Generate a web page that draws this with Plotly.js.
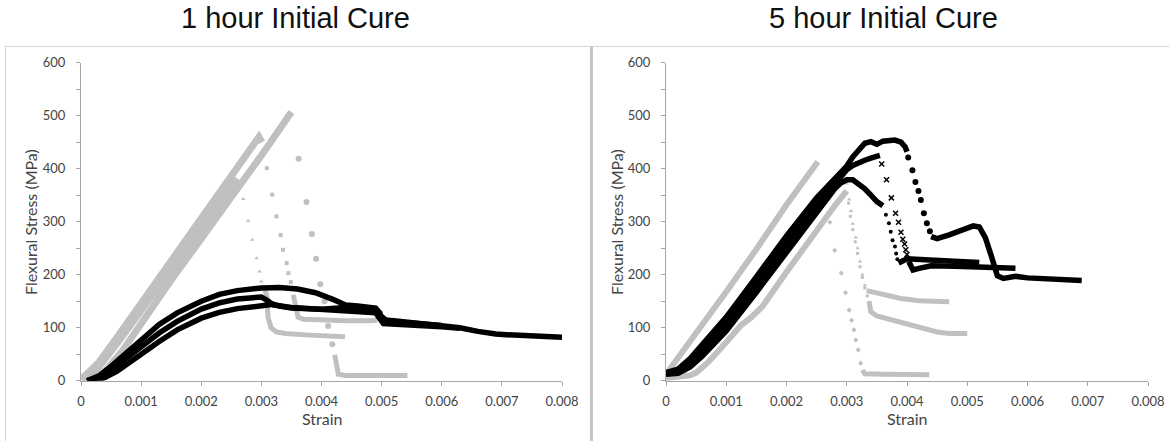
<!DOCTYPE html>
<html>
<head>
<meta charset="utf-8">
<script src="https://cdn.plot.ly/plotly-3.0.1.min.js"></script>
<style>
html,body{margin:0;padding:0;background:#fff;}
#chart{width:1169px;height:441px;}
</style>
</head>
<body>
<div id="chart"></div>
<script>
// ---------- Titles / labels ----------
var panelTitles = ["1 hour Initial Cure", "5 hour Initial Cure"];
var xTitle = "Strain";
var yTitle = "Flexural Stress (MPa)";

// ---------- LEFT PANEL (1 hour) ----------
// grey specimens: loading line, failure drop points, residual tail
var gA_rise_x = [0, 0.0003, 0.0006, 0.001, 0.0015, 0.002, 0.0024, 0.0026];
var gA_rise_y = [2, 28, 72, 134, 212, 290, 352, 382];
var gA_drop_x = [0.00270, 0.00278, 0.00285, 0.00292, 0.00297, 0.00300];
var gA_drop_y = [343, 302, 266, 231, 206, 187];
var gA_tail_x = [0.00305, 0.00309, 0.00311, 0.00316, 0.00325, 0.0034, 0.0038, 0.0042, 0.00439];
var gA_tail_y = [175, 160, 120, 100, 92, 89, 86, 84, 83];

var gB_rise_x = [0, 0.0003, 0.0006, 0.001, 0.0015, 0.002, 0.0025, 0.0028, 0.00296, 0.00301];
var gB_rise_y = [2, 35, 82, 146, 225, 304, 384, 436, 460, 450];
var gB_drop_x = [0.00309, 0.00318, 0.00325, 0.00332, 0.00336, 0.00342, 0.00345, 0.00349];
var gB_drop_y = [401, 351, 310, 275, 247, 222, 203, 186];
var gB_tail_x = [0.00353, 0.00357, 0.00361, 0.0037, 0.004, 0.0044, 0.0048, 0.00493];
var gB_tail_y = [162, 140, 120, 116, 114, 113, 113, 114];

var gC_rise_x = [0.0001, 0.0004, 0.0007, 0.001, 0.0015, 0.002, 0.0025, 0.003, 0.0035];
var gC_rise_y = [0, 18, 58, 108, 190, 268, 345, 425, 507];
var gC_drop_x = [0.00362, 0.00375, 0.00384, 0.00391, 0.00398, 0.00405, 0.00411, 0.00418];
var gC_drop_y = [419, 337, 277, 230, 182, 150, 103, 69];
var gC_tail_x = [0.00422, 0.00425, 0.00428, 0.0044, 0.0047, 0.0050, 0.0052, 0.00543];
var gC_tail_y = [49, 28, 12, 10, 10, 10, 10, 10];

// black specimens
var bL1_x = [0.0001, 0.0003, 0.0005, 0.0008, 0.001, 0.0013, 0.0016, 0.002, 0.0023, 0.0026, 0.003, 0.0033, 0.0036, 0.0039, 0.0042, 0.0044, 0.0046, 0.0048, 0.0049, 0.00497, 0.0050, 0.0052, 0.0055, 0.0058, 0.006, 0.0063, 0.0066, 0.0069, 0.0072, 0.0075, 0.0078, 0.008];
var bL1_y = [0, 9, 27, 56, 78, 106, 128, 150, 163, 170, 175, 176, 173, 166, 153, 143, 141, 139, 137, 128, 115, 113, 110, 107, 104, 100, 93, 88, 86, 84, 83, 82];
var bL2_x = [0.0001, 0.0003, 0.0005, 0.0008, 0.001, 0.0013, 0.0016, 0.002, 0.0023, 0.0026, 0.0029, 0.003, 0.0031, 0.0032, 0.0035, 0.004, 0.0045, 0.0049, 0.00503, 0.0055, 0.006, 0.0063];
var bL2_y = [0, 6, 20, 45, 64, 90, 112, 135, 147, 154, 158, 158, 151, 143, 138, 134, 131, 128, 108, 106, 102, 99];
var bL3_x = [0.0002, 0.0004, 0.0006, 0.0008, 0.001, 0.0013, 0.0016, 0.002, 0.0023, 0.0026, 0.003, 0.0032, 0.0033, 0.0035, 0.004, 0.0044, 0.0047, 0.0049, 0.0051, 0.0054, 0.0057, 0.006];
var bL3_y = [0, 6, 18, 33, 50, 74, 96, 118, 129, 136, 142, 144, 141, 137, 135, 138, 137, 130, 112, 110, 108, 104];

// ---------- RIGHT PANEL (5 hour) ----------
var gR1_rise_x = [0, 0.0005, 0.001, 0.0015, 0.002, 0.00252];
var gR1_rise_y = [12, 88, 168, 248, 332, 413];
var gR1_drop_x = [0.00272, 0.00280, 0.00291, 0.00298, 0.00304, 0.00308, 0.00312, 0.00315, 0.00319, 0.00323];
var gR1_drop_y = [299, 246, 203, 166, 133, 114, 96, 77, 58, 33];
var gR1_tail_x = [0.00326, 0.0033, 0.0036, 0.004, 0.00437];
var gR1_tail_y = [20, 13, 12, 11, 11];

var gR2_rise_x = [0.0001, 0.0003, 0.0005, 0.0008, 0.0012, 0.0016, 0.002, 0.0025, 0.00295];
var gR2_rise_y = [5, 20, 40, 78, 136, 196, 256, 330, 396];
var gR2_drop_x = [0.0030, 0.00304, 0.00307, 0.0031, 0.00315, 0.00318, 0.00322, 0.00326, 0.0033];
var gR2_drop_y = [372, 342, 320, 296, 270, 250, 225, 200, 180];
var gR2_tail_x = [0.00333, 0.0035, 0.0037, 0.0039, 0.0042, 0.0047];
var gR2_tail_y = [170, 166, 162, 155, 151, 149];

var gR3_rise_x = [0, 0.0002, 0.0004, 0.0005, 0.0007, 0.0009, 0.0011, 0.00125, 0.0014, 0.0016, 0.002, 0.0025, 0.0028, 0.003];
var gR3_rise_y = [5, 8, 10, 15, 35, 60, 85, 105, 118, 140, 205, 285, 330, 358];
var gR3_drop_x = [0.00303, 0.00306, 0.0031, 0.00314, 0.00318, 0.00322, 0.00326, 0.0033, 0.00334];
var gR3_drop_y = [335, 310, 285, 262, 240, 215, 195, 175, 160];
var gR3_tail_x = [0.00337, 0.0034, 0.0035, 0.0038, 0.0042, 0.0045, 0.0047, 0.005];
var gR3_tail_y = [150, 130, 122, 113, 102, 92, 89, 89];

var bR1_x = [0, 0.0002, 0.0004, 0.0006, 0.0008, 0.001, 0.0015, 0.002, 0.0025, 0.0028, 0.003, 0.0031, 0.0032, 0.0033, 0.0034, 0.0035, 0.0036, 0.0038, 0.0039, 0.00397, 0.004];
var bR1_y = [15, 22, 42, 68, 94, 120, 196, 273, 345, 382, 405, 422, 436, 448, 451, 446, 452, 454, 450, 441, 432];
var bR1_drop_x = [0.00402, 0.00409, 0.00414, 0.00419, 0.00423, 0.00428, 0.00433, 0.00438];
var bR1_drop_y = [421, 397, 375, 358, 341, 316, 297, 282];
var bR1_tail_x = [0.0044, 0.0045, 0.0047, 0.0049, 0.0051, 0.0052, 0.0053, 0.0054, 0.0055, 0.0056, 0.0058, 0.006, 0.0065, 0.0069];
var bR1_tail_y = [272, 268, 275, 283, 292, 290, 270, 235, 198, 193, 197, 194, 191, 189];

var bR2_x = [0, 0.0002, 0.0004, 0.0006, 0.0008, 0.001, 0.0015, 0.002, 0.0025, 0.0028, 0.003, 0.0031, 0.0032, 0.0033, 0.0034, 0.0035, 0.00355];
var bR2_y = [14, 17, 33, 57, 82, 106, 181, 258, 330, 370, 398, 406, 412, 416, 420, 424, 425];
var bR2_drop_x = [0.00358, 0.00366, 0.00374, 0.00381, 0.00386, 0.0039, 0.00393, 0.00396, 0.00398, 0.004];
var bR2_drop_y = [409, 379, 345, 316, 299, 280, 267, 258, 247, 238];
var bR2_tail_x = [0.00403, 0.0041, 0.0042, 0.0044, 0.0048, 0.0052, 0.0056, 0.0058];
var bR2_tail_y = [225, 209, 212, 217, 216, 214, 213, 212];

var bR3_x = [0, 0.0002, 0.0004, 0.0006, 0.0008, 0.001, 0.0015, 0.002, 0.0025, 0.0028, 0.0029, 0.003, 0.0031, 0.0032, 0.0033, 0.0034, 0.0035, 0.0036];
var bR3_y = [12, 14, 26, 46, 70, 94, 167, 243, 318, 362, 373, 379, 379, 372, 362, 350, 338, 330];
var bR3_drop_x = [0.00365, 0.0037, 0.00373, 0.00376, 0.0038, 0.00382, 0.00384];
var bR3_drop_y = [313, 297, 281, 265, 253, 240, 229];
var bR3_tail_x = [0.00386, 0.0039, 0.004, 0.0043, 0.0047, 0.005, 0.0052];
var bR3_tail_y = [222, 224, 230, 228, 226, 225, 223];

// ---------- build traces ----------
var GREY = "#c0c0c0", BLACK = "#000000";
function line(x, y, c, ax, w) {
  return {x: x, y: y, type: "scatter", mode: "lines", xaxis: ax[0], yaxis: ax[1],
    line: {color: c, width: w || 6}, hoverinfo: "skip", showlegend: false};
}
function dots(x, y, c, ax, sym, size) {
  var m = {color: c, size: size, symbol: sym};
  if (sym.indexOf("x") === 0) m.line = {color: c, width: 1.5};
  return {x: x, y: y, type: "scatter", mode: "markers", xaxis: ax[0], yaxis: ax[1],
    marker: m, hoverinfo: "skip", showlegend: false, cliponaxis: false};
}
var L = ["x", "y"], R = ["x2", "y2"];
var traces = [
  line(gA_rise_x, gA_rise_y, GREY, L, 8), dots(gA_drop_x, gA_drop_y, GREY, L, "triangle-up", 4), line(gA_tail_x, gA_tail_y, GREY, L, 5),
  line(gB_rise_x, gB_rise_y, GREY, L, 7), dots(gB_drop_x, gB_drop_y, GREY, L, "square", 4), line(gB_tail_x, gB_tail_y, GREY, L, 5),
  line(gC_rise_x, gC_rise_y, GREY, L, 7), dots(gC_drop_x, gC_drop_y, GREY, L, "circle", 6), line(gC_tail_x, gC_tail_y, GREY, L, 5),
  line(bL1_x, bL1_y, BLACK, L, 5.5), line(bL2_x, bL2_y, BLACK, L, 5.5), line(bL3_x, bL3_y, BLACK, L, 5.5),

  line(gR1_rise_x, gR1_rise_y, GREY, R), dots(gR1_drop_x, gR1_drop_y, GREY, R, "diamond", 4), line(gR1_tail_x, gR1_tail_y, GREY, R, 5),
  line(gR2_rise_x, gR2_rise_y, GREY, R), dots(gR2_drop_x, gR2_drop_y, GREY, R, "triangle-up", 4), line(gR2_tail_x, gR2_tail_y, GREY, R, 5),
  line(gR3_rise_x, gR3_rise_y, GREY, R), dots(gR3_drop_x, gR3_drop_y, GREY, R, "square", 3), line(gR3_tail_x, gR3_tail_y, GREY, R, 5),
  line(bR1_x, bR1_y, BLACK, R, 5.5), dots(bR1_drop_x, bR1_drop_y, BLACK, R, "circle", 6), line(bR1_tail_x, bR1_tail_y, BLACK, R, 5.5),
  line(bR2_x, bR2_y, BLACK, R, 5.5), dots(bR2_drop_x, bR2_drop_y, BLACK, R, "x-thin-open", 5), line(bR2_tail_x, bR2_tail_y, BLACK, R, 5.5),
  line(bR3_x, bR3_y, BLACK, R, 5.5), dots(bR3_drop_x, bR3_drop_y, BLACK, R, "circle", 4), line(bR3_tail_x, bR3_tail_y, BLACK, R, 5.5)
];

// ---------- layout ----------
var W = 1169, H = 441;
function px(v) { return v / W; }
function py(v) { return 1 - v / H; }
var tickFont = {family: "Lato, 'Open Sans', sans-serif", size: 13, color: "#444"};
var AXC = "#a6a6a6";
function xax(dom) {
  return {domain: dom, range: [0, 0.008], dtick: 0.001, tick0: 0, showgrid: false, zeroline: false,
    showline: true, linecolor: AXC, linewidth: 1, ticks: "outside", ticklen: 4, tickcolor: AXC,
    tickfont: tickFont, ticklabelstandoff: 5, fixedrange: true};
}
function yax(anchor) {
  return {domain: [py(380.7), py(62.7)], anchor: anchor, range: [0, 600], dtick: 100, tick0: 0,
    showgrid: false, zeroline: false, showline: true, linecolor: AXC, linewidth: 1,
    ticks: "outside", ticklen: 4, tickcolor: AXC, tickfont: tickFont, ticklabelstandoff: 8,
    minor: {dtick: 50, ticks: "outside", ticklen: 4, tickcolor: AXC, showgrid: false}, fixedrange: true};
}
var titleFont = {family: "'Liberation Sans', Arial, sans-serif", size: 29, color: "#111"};
var labFont = {family: "Lato, 'Open Sans', sans-serif", size: 16, color: "#444"};
var layout = {
  width: W, height: H, margin: {l: 0, r: 0, t: 0, b: 0}, paper_bgcolor: "#fff", plot_bgcolor: "#fff",
  showlegend: false,
  xaxis: xax([px(81), px(562)]), yaxis: yax("x"),
  xaxis2: Object.assign(xax([px(666), px(1148)]), {anchor: "y2"}), yaxis2: yax("x2"),
  annotations: [
    {text: panelTitles[0], xref: "paper", yref: "paper", x: px(295), y: py(18), xanchor: "center", yanchor: "middle", showarrow: false, font: titleFont},
    {text: panelTitles[1], xref: "paper", yref: "paper", x: px(883), y: py(18), xanchor: "center", yanchor: "middle", showarrow: false, font: titleFont},
    {text: xTitle, xref: "paper", yref: "paper", x: px(321.5), y: py(418), xanchor: "center", yanchor: "middle", showarrow: false, font: labFont},
    {text: xTitle, xref: "paper", yref: "paper", x: px(907), y: py(418), xanchor: "center", yanchor: "middle", showarrow: false, font: labFont},
    {text: yTitle, xref: "paper", yref: "paper", x: px(30), y: py(222), xanchor: "center", yanchor: "middle", textangle: -90, showarrow: false, font: labFont},
    {text: yTitle, xref: "paper", yref: "paper", x: px(616), y: py(222), xanchor: "center", yanchor: "middle", textangle: -90, showarrow: false, font: labFont}
  ],
  shapes: [
    {type: "line", xref: "paper", yref: "paper", x0: px(5.5), x1: px(5.5), y0: 0, y1: py(46.5), line: {color: "#d4d4d4", width: 1}},
    {type: "line", xref: "paper", yref: "paper", x0: px(5.5), x1: 1, y0: py(46.5), y1: py(46.5), line: {color: "#d4d4d4", width: 1}},
    {type: "line", xref: "paper", yref: "paper", x0: px(591.5), x1: px(591.5), y0: 0, y1: py(46.5), line: {color: "#c4c4c4", width: 3}}
  ]
};
Plotly.newPlot("chart", traces, layout, {staticPlot: true, displayModeBar: false});
</script>
</body>
</html>
